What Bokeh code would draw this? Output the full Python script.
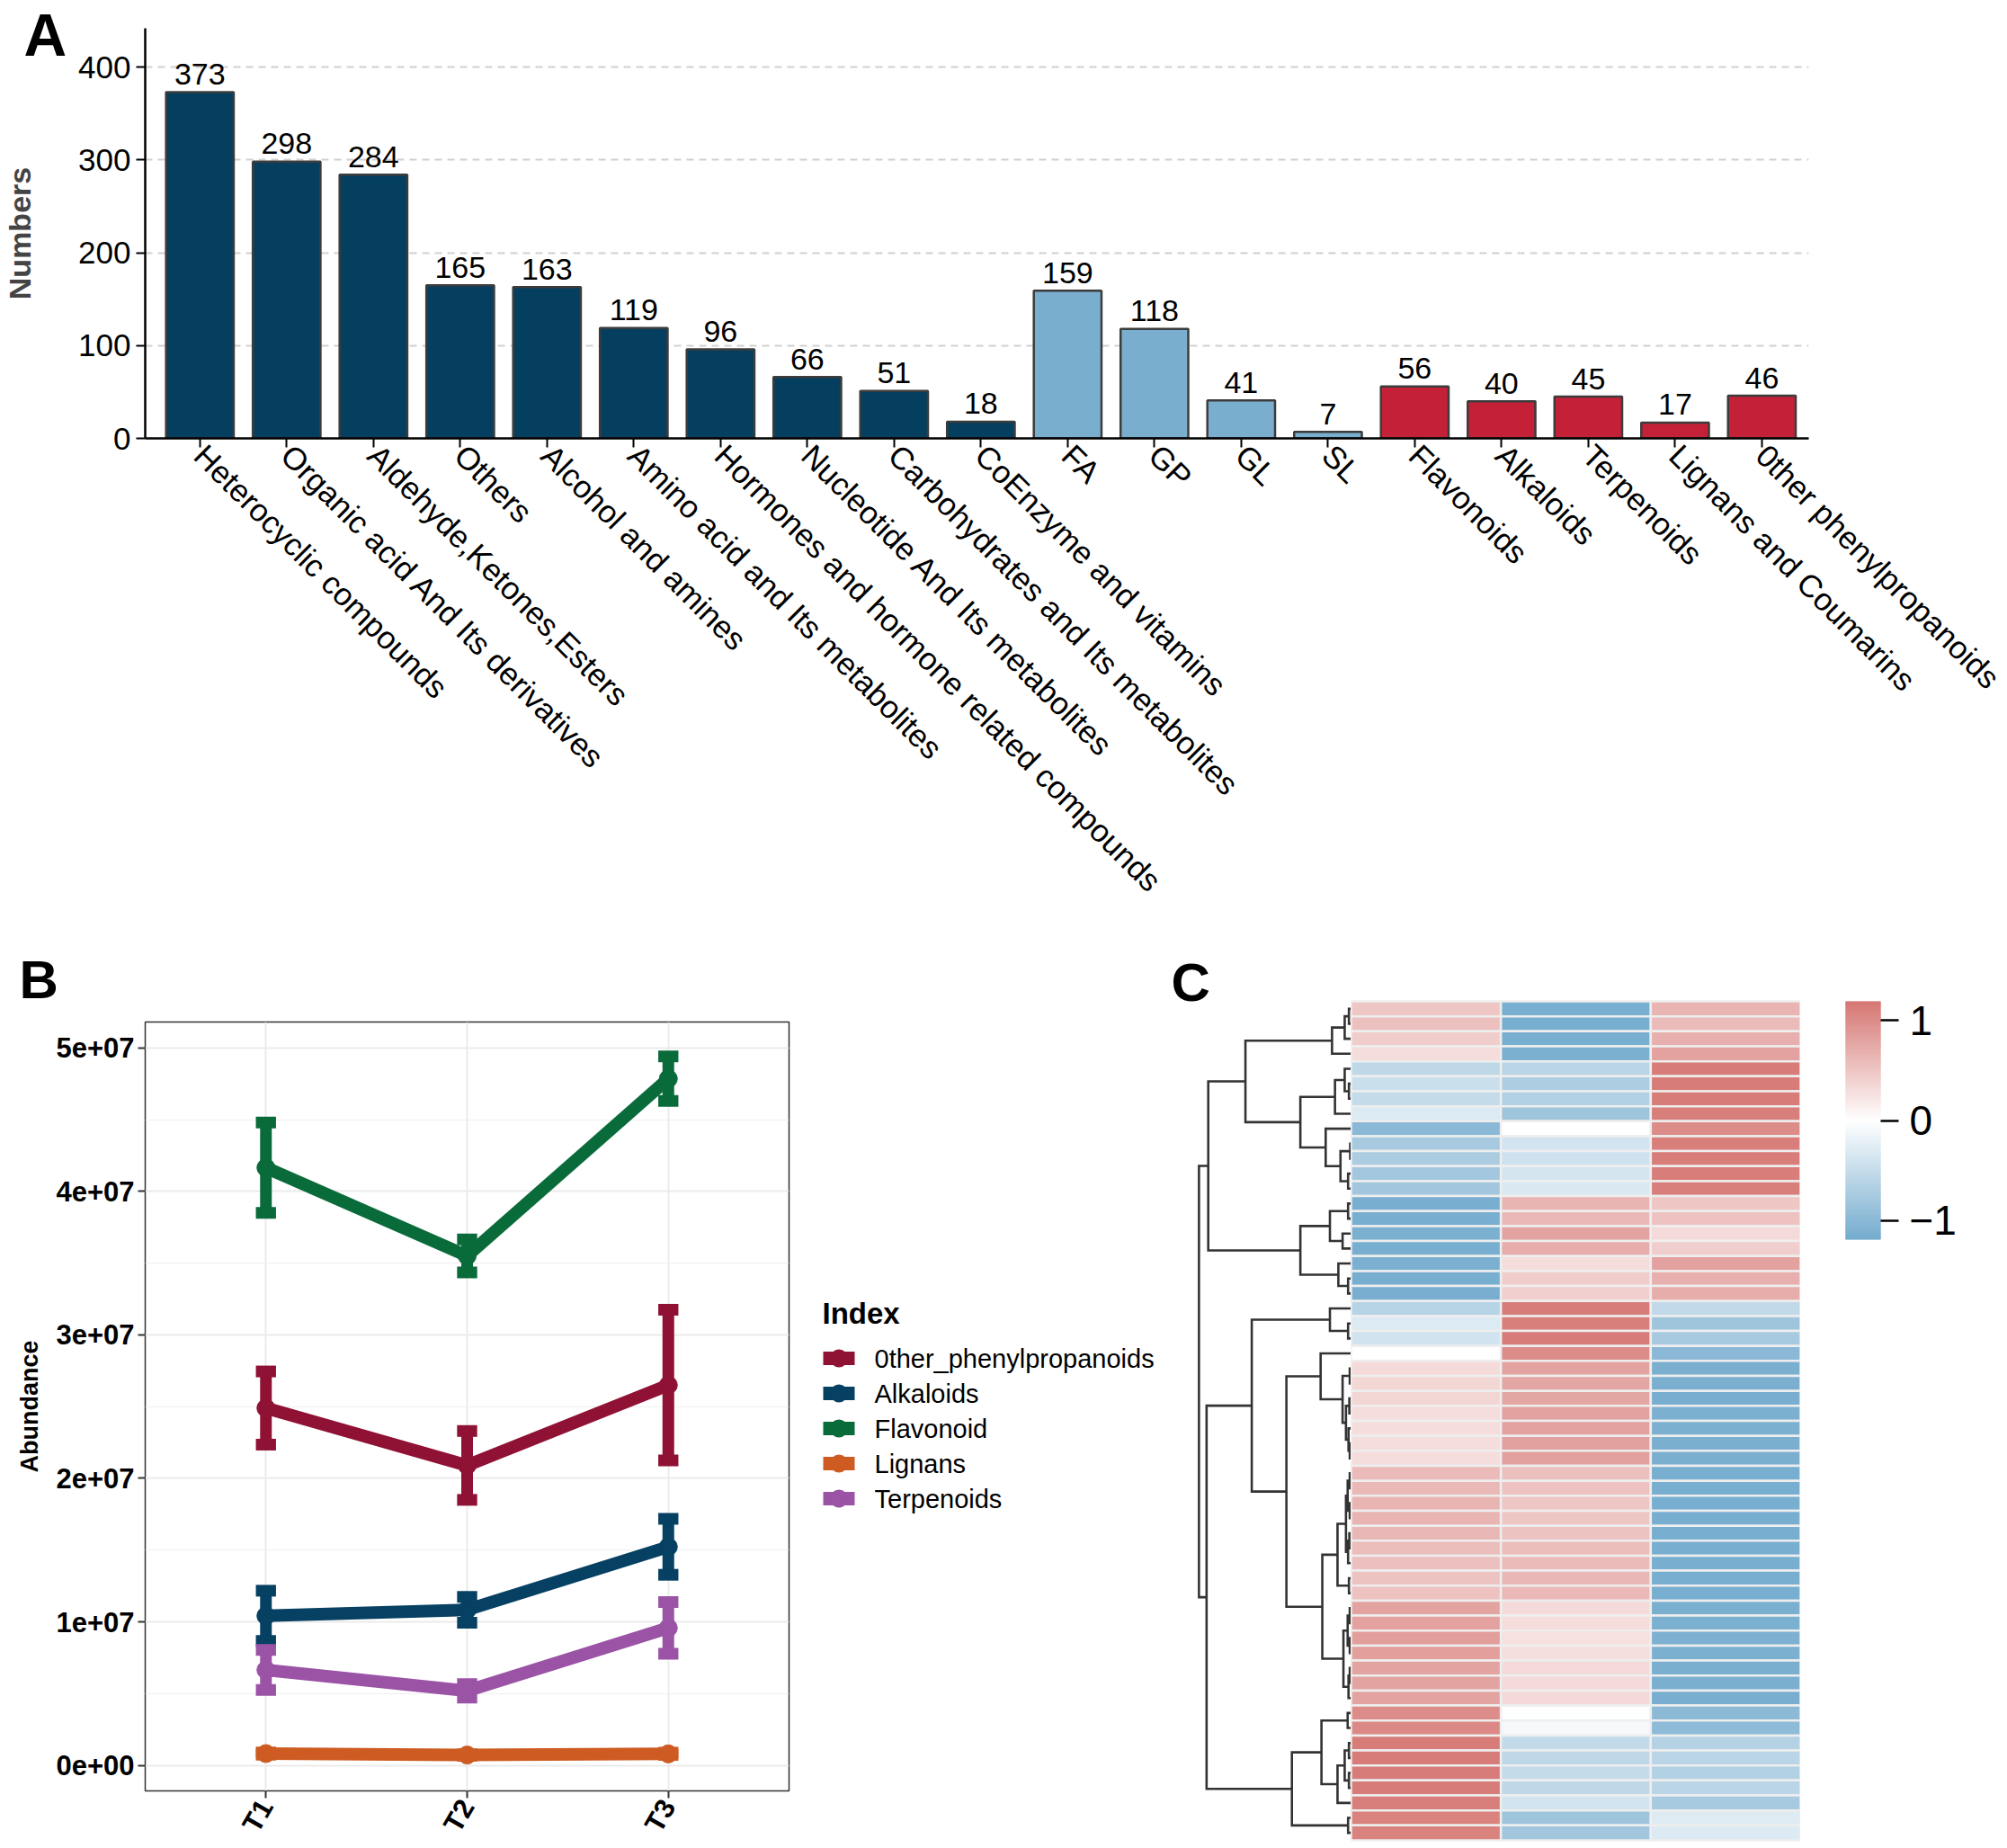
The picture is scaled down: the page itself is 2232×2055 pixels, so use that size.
import numpy as np
from bokeh.plotting import figure
from bokeh.layouts import column, row
from bokeh.models import (Range1d, FixedTicker, ColumnDataSource,
                          LinearColorMapper, CustomJSTickFormatter)
from bokeh.transform import transform
from bokeh.core.properties import value
from bokeh.embed import file_html
from bokeh.resources import INLINE

FONT = "Liberation Sans"

# ---------------- Panel A data ----------------
a_categories = ["Heterocyclic compounds", "Organic acid And Its derivatives",
                "Aldehyde,Ketones,Esters", "Others", "Alcohol and amines",
                "Amino acid and Its metabolites", "Hormones and hormone related compounds",
                "Nucleotide And Its metabolites", "Carbohydrates and Its metabolites",
                "CoEnzyme and vitamins", "FA", "GP", "GL", "SL", "Flavonoids",
                "Alkaloids", "Terpenoids", "Lignans and Coumarins", "0ther phenylpropanoids"]
a_counts = [373, 298, 284, 165, 163, 119, 96, 66, 51, 18, 159, 118, 41, 7, 56, 40, 45, 17, 46]
a_groups = ["primary", "primary", "primary", "primary", "primary", "primary", "primary",
            "primary", "primary", "primary", "lipid", "lipid", "lipid", "lipid",
            "phenyl", "phenyl", "phenyl", "phenyl", "phenyl"]
a_group_colors = {"primary": "#053F60", "lipid": "#7AAECE", "phenyl": "#C42038"}
a_yticks = [0, 100, 200, 300, 400]

# ---------------- Panel B data ----------------
b_times = ["T1", "T2", "T3"]
b_series = ["0ther_phenylpropanoids", "Alkaloids", "Flavonoid", "Lignans", "Terpenoids"]
b_colors = ["#8F1134", "#064062", "#0A6B3A", "#CD5B22", "#9B53A6"]
b_mean_other = [2.49e7, 2.09e7, 2.65e7]
b_sd_other = [0.255e7, 0.24e7, 0.525e7]
b_mean_alkaloids = [1.042e7, 1.084e7, 1.523e7]
b_sd_alkaloids = [0.175e7, 0.09e7, 0.195e7]
b_mean_flavonoid = [4.165e7, 3.55e7, 4.785e7]
b_sd_flavonoid = [0.315e7, 0.115e7, 0.155e7]
b_mean_lignans = [0.082e7, 0.072e7, 0.080e7]
b_sd_lignans = [0.008e7, 0.006e7, 0.008e7]
b_mean_terpenoids = [0.665e7, 0.519e7, 0.958e7]
b_sd_terpenoids = [0.14e7, 0.047e7, 0.18e7]
b_yticks = [0, 1e7, 2e7, 3e7, 4e7, 5e7]
b_yminor = [0.5e7, 1.5e7, 2.5e7, 3.5e7, 4.5e7]

# ---------------- Panel C data (row z-scores, 56 rows x 3 samples) ----------------
c_z1 = [0.50, 0.55, 0.45, 0.30, -0.55, -0.45, -0.50, -0.30, -1.00, -0.75,
        -0.72, -0.78, -0.80, -1.15, -1.15, -1.12, -1.15, -1.12, -1.15, -1.14,
        -0.62, -0.30, -0.40, 0.00, 0.33, 0.35, 0.36, 0.30, 0.30, 0.30,
        0.30, 0.60, 0.62, 0.65, 0.65, 0.63, 0.58, 0.55, 0.52, 0.53,
        0.80, 0.82, 0.85, 0.84, 0.80, 0.80, 0.80, 1.00, 1.04, 1.15,
        1.15, 1.15, 1.15, 1.13, 1.10, 1.10]
c_z2 = [-1.15, -1.15, -1.15, -1.12, -0.60, -0.70, -0.65, -0.82, 0.00, -0.38,
        -0.42, -0.36, -0.33, 0.65, 0.62, 0.80, 0.72, 0.30, 0.45, 0.42,
        1.15, 1.12, 1.15, 1.00, 0.80, 0.78, 0.78, 0.82, 0.82, 0.83,
        0.83, 0.55, 0.53, 0.50, 0.50, 0.52, 0.57, 0.60, 0.63, 0.62,
        0.33, 0.30, 0.26, 0.28, 0.33, 0.33, 0.34, -0.02, -0.08, -0.52,
        -0.55, -0.50, -0.55, -0.38, -0.82, -0.80]
c_z3 = [0.65, 0.60, 0.70, 0.82, 1.15, 1.15, 1.15, 1.12, 1.00, 1.13,
        1.14, 1.14, 1.13, 0.50, 0.53, 0.32, 0.43, 0.82, 0.70, 0.72,
        -0.53, -0.82, -0.75, -1.00, -1.13, -1.13, -1.14, -1.12, -1.12, -1.13,
        -1.13, -1.15, -1.15, -1.15, -1.15, -1.15, -1.15, -1.15, -1.15, -1.15,
        -1.13, -1.12, -1.11, -1.12, -1.13, -1.13, -1.14, -0.98, -0.96, -0.63,
        -0.60, -0.65, -0.60, -0.75, -0.28, -0.30]
# row dendrogram: leaf = row index, node = [left, right, height]
dendro_tree = [
    [[[[[0, 1, 5], 2, 15], 3, 45],
      [[[4, [5, 6, 5], 15], 7, 38], [8, [[9, 10, 2], [11, 12, 7], 25], 60], 120], 250],
     [[[13, 14, 7], [15, 16, 20], 50], [17, [18, 19, 7], 30], 120], 338],
    [[[20, [21, 22, 7], 50],
      [[23, [[24, 25, 3], [[26, 27, 4], [28, [29, 30, 3], 6], 12], 20], 72],
       [[[[[31, 32, 3], [33, 34, 3], 8], [[35, 36, 4], 37, 7], 12], [38, 39, 5], 32],
        [[[40, 41, 3], [42, 43, 3], 8], [[44, 45, 3], 46, 6], 18], 68], 153], 235],
     [[[47, 48, 8], [[[49, 50, 5], [51, 52, 5], 15], 53, 32], 70], [54, 55, 7], 140], 342],
    360]
c_lim = 1.19
c_colors = ["#74ABCE", "#FFFFFF", "#D67874"]


def interp_palette(stops, n):
    rgb = [tuple(int(s[i:i + 2], 16) for i in (1, 3, 5)) for s in stops]
    out = []
    for k in range(n):
        t = k / (n - 1) * (len(rgb) - 1)
        i = min(int(t), len(rgb) - 2)
        f = t - i
        c = [round(rgb[i][j] + (rgb[i + 1][j] - rgb[i][j]) * f) for j in range(3)]
        out.append("#%02x%02x%02x" % tuple(c))
    return out


ALL_FIGS = []


def make_fig(**kw):
    f = figure(output_backend="svg", toolbar_location=None, **kw)
    f.background_fill_color = "white"
    f.border_fill_color = "white"
    ALL_FIGS.append(f)
    return f


def blank_fig(w, h, xr, yr):
    f = make_fig(width=w, height=h, x_range=xr, y_range=yr, x_axis_location=None,
                 y_axis_location=None, min_border=0)
    f.outline_line_color = None
    f.grid.visible = False
    return f


# ======================= Panel A =======================
W = 2232
TOP_H = 1040
A_LEFT = 80
A_L, A_R, A_T = 161 - A_LEFT, 221, 31
A_FH = 487 - A_T                        # frame height in px
A_B = TOP_H - A_T - A_FH
a_px = 413 / 400.0                      # px per count (0 at y=487, 400 at y=74)
a_x0, a_x1 = -0.63, 18.54
a_y0, a_y1 = 0, A_FH / a_px

# left strip holding panel letter and y-axis title
pleft = blank_fig(A_LEFT, TOP_H, Range1d(0, A_LEFT), Range1d(TOP_H, 0))
pleft.text(x=[26], y=[38], text=["A"], text_font=value(FONT), text_font_style="bold",
           text_font_size="66px", text_baseline="middle")
pleft.text(x=[21], y=[A_T + A_FH / 2], text=["Numbers"], angle=np.pi / 2,
           text_font=value(FONT), text_font_style="bold", text_font_size="34px",
           text_color="#444444", text_align="center", text_baseline="middle")

pa = make_fig(width=W - A_LEFT, height=TOP_H, x_range=Range1d(a_x0, a_x1),
              y_range=Range1d(a_y0, a_y1), min_border_left=A_L, min_border_right=A_R,
              min_border_top=A_T, min_border_bottom=A_B)
pa.outline_line_color = None
pa.xgrid.grid_line_color = None
pa.ygrid.ticker = FixedTicker(ticks=a_yticks[1:])
pa.ygrid.grid_line_color = "#D0D0D0"
pa.ygrid.grid_line_dash = "8 6"
pa.ygrid.grid_line_width = 2

src_a = ColumnDataSource(dict(x=list(range(len(a_categories))), top=a_counts,
                              ylab=[v + 20 / a_px for v in a_counts],
                              lab=[str(v) for v in a_counts],
                              color=[a_group_colors[g] for g in a_groups]))
pa.vbar(x="x", top="top", bottom=0, width=0.78, fill_color="color",
        line_color="#3C3C3C", line_width=2.5, source=src_a)
pa.text(x="x", y="ylab", text="lab", text_align="center", text_baseline="middle",
        text_font=value(FONT), text_font_size="34px", text_color="black", source=src_a)

pa.xaxis.ticker = FixedTicker(ticks=list(range(len(a_categories))))
pa.xaxis.major_label_overrides = {i: c for i, c in enumerate(a_categories)}
pa.xaxis.major_label_orientation = -np.pi / 4
pa.yaxis.ticker = FixedTicker(ticks=a_yticks)
for ax in (pa.xaxis[0], pa.yaxis[0]):
    ax.axis_line_color = "black"
    ax.axis_line_width = 2.5
    ax.major_tick_line_color = "black"
    ax.major_tick_line_width = 2
    ax.major_tick_out = 10
    ax.major_tick_in = 0
    ax.minor_tick_line_color = None
    ax.major_label_text_font = FONT
    ax.major_label_text_font_size = "35px"
    ax.major_label_text_color = "black"
pa.xaxis.major_label_standoff = 3
pa.yaxis.major_label_standoff = 6

# ======================= Panel B =======================
ROW_H = 2055 - TOP_H
B_W = 897
B_STRIP = 1134 - TOP_H
stripB = blank_fig(B_W, B_STRIP, Range1d(0, B_W), Range1d(B_STRIP, 0))
stripB.text(x=[21], y=[1089 - TOP_H], text=["B"], text_font=value(FONT),
            text_font_style="bold", text_font_size="60px", text_baseline="middle")

B_H = ROW_H - B_STRIP
B_L, B_R, B_T = 161, 20, 2
B_B = B_H - B_T - 856
b_x0, b_x1 = 0.4, 3.6
b_y0, b_y1 = -0.178e7, 5.18e7
pb = make_fig(width=B_W, height=B_H, x_range=Range1d(b_x0, b_x1), y_range=Range1d(b_y0, b_y1),
              min_border_left=B_L, min_border_right=B_R, min_border_top=B_T,
              min_border_bottom=B_B)
pb.outline_line_color = "#333333"
pb.outline_line_width = 1.5
b_xpos = [i + 1 for i in range(len(b_times))]
pb.xgrid.ticker = FixedTicker(ticks=b_xpos)
pb.xgrid.grid_line_color = "#EBEBEB"
pb.xgrid.grid_line_width = 2
pb.yaxis.ticker = FixedTicker(ticks=b_yticks, minor_ticks=b_yminor)
pb.ygrid.grid_line_color = "#EBEBEB"
pb.ygrid.grid_line_width = 2
pb.ygrid.minor_grid_line_color = "#EFEFEF"
pb.ygrid.minor_grid_line_width = 1.2

b_means = [b_mean_other, b_mean_alkaloids, b_mean_flavonoid, b_mean_lignans, b_mean_terpenoids]
b_sds = [b_sd_other, b_sd_alkaloids, b_sd_flavonoid, b_sd_lignans, b_sd_terpenoids]
for m, c in zip(b_means, b_colors):
    pb.line(b_xpos, m, line_color=c, line_width=14, line_join="round")
for m, c in zip(b_means, b_colors):
    pb.scatter(b_xpos, m, size=20, fill_color=c, line_color=c, marker="circle")
cap = 0.05
for m, s, c in zip(b_means, b_sds, b_colors):
    lo = [mm - ss for mm, ss in zip(m, s)]
    hi = [mm + ss for mm, ss in zip(m, s)]
    pb.segment(x0=b_xpos, y0=lo, x1=b_xpos, y1=hi, line_color=c, line_width=13)
    pb.segment(x0=[x - cap for x in b_xpos], y0=hi, x1=[x + cap for x in b_xpos], y1=hi,
               line_color=c, line_width=13)
    pb.segment(x0=[x - cap for x in b_xpos], y0=lo, x1=[x + cap for x in b_xpos], y1=lo,
               line_color=c, line_width=13)

pb.xaxis.ticker = FixedTicker(ticks=b_xpos)
pb.xaxis.major_label_overrides = {x: t for x, t in zip(b_xpos, b_times)}
pb.xaxis.major_label_orientation = np.pi / 3
pb.yaxis.formatter = CustomJSTickFormatter(code="""
    const s = tick.toExponential(0);
    const parts = s.split('e');
    const sign = parts[1][0];
    const d = parts[1].slice(1).padStart(2, '0');
    return parts[0] + 'e' + sign + d;
""")
for ax in (pb.xaxis[0], pb.yaxis[0]):
    ax.axis_line_color = None
    ax.major_tick_line_color = "#333333"
    ax.major_tick_line_width = 2
    ax.major_tick_out = 8
    ax.major_tick_in = 0
    ax.minor_tick_line_color = None
    ax.major_label_text_font = FONT
    ax.major_label_text_font_style = "bold"
    ax.major_label_text_font_size = "31px"
    ax.major_label_text_color = "black"
    ax.major_label_standoff = 4
pb.yaxis.axis_label = "Abundance"
pb.yaxis.axis_label_text_font = FONT
pb.yaxis.axis_label_text_font_style = "bold"
pb.yaxis.axis_label_text_font_size = "27px"
pb.yaxis.axis_label_text_color = "black"
pb.yaxis.axis_label_standoff = 11

# ----- legend for panel B (own small canvas, pixel units) -----
L_W = 403
pl = blank_fig(L_W, ROW_H, Range1d(0, L_W), Range1d(ROW_H, 0))
leg_top, leg_pitch = 1510 - TOP_H, 39
leg_y = [leg_top + leg_pitch * i for i in range(len(b_series))]
pl.text(x=[17], y=[leg_top - 50], text=["Index"], text_font=value(FONT),
        text_font_style="bold", text_font_size="33px", text_baseline="middle")
pl.rect(x=[35.5] * len(b_series), y=leg_y, width=35, height=15, fill_color=b_colors,
        line_color=None)
pl.scatter(x=[35.5] * len(b_series), y=leg_y, size=20, fill_color=b_colors,
           line_color=None, marker="circle")
pl.text(x=[75] * len(b_series), y=leg_y, text=b_series, text_font=value(FONT),
        text_font_size="29px", text_baseline="middle", text_color="black")

# ======================= Panel C =======================
n_rows = len(c_z1)
C_TOP, C_BOT = 1113 - TOP_H, 2046 - TOP_H   # heatmap top / bottom inside the row canvas
r_px = (C_BOT - C_TOP) / n_rows              # px per heatmap row
c_yr = (n_rows + (ROW_H - C_BOT) / r_px, -C_TOP / r_px)

D_W, D_ROOT = 202, 31
d_max = 364
d_px = (D_W - D_ROOT) / d_max
pdd = blank_fig(D_W, ROW_H, Range1d(d_max + D_ROOT / d_px, 0), Range1d(*c_yr))
dx, dy = [], []


def dendro_segments(node):
    if isinstance(node, int):
        return 0.0, node + 0.5
    left, right, h = node
    hl, yl = dendro_segments(left)
    hr, yr = dendro_segments(right)
    dx.append([hl, h, h, hr])
    dy.append([yl, yl, yr, yr])
    return h, (yl + yr) / 2


dendro_segments(dendro_tree)
pdd.multi_line(xs=dx, ys=dy, line_color="#333333", line_width=2.6, line_join="miter")
pdd.text(x=[d_max + (D_ROOT - 2) / d_px], y=[(1091.5 - TOP_H - C_TOP) / r_px], text=["C"],
         text_font=value(FONT), text_font_style="bold", text_font_size="60px",
         text_baseline="middle")

palette = interp_palette(c_colors, 255)
mapper = LinearColorMapper(palette=palette, low=-c_lim, high=c_lim)

H_W = 500
ph = blank_fig(H_W, ROW_H, Range1d(0, 3), Range1d(*c_yr))
hx, hy, hz = [], [], []
for ci, col in enumerate([c_z1, c_z2, c_z3]):
    for ri, v in enumerate(col):
        hx.append(ci + 0.5)
        hy.append(ri + 0.5)
        hz.append(v)
src_h = ColumnDataSource(dict(x=hx, y=hy, z=hz))
ph.rect(x="x", y="y", width=1, height=1, fill_color=transform("z", mapper),
        line_color="#EEEEEE", line_width=2.5, source=src_h)

# colour bar as its own small plot
CB_W = W - B_W - L_W - D_W - H_W
CB_L, CB_T, CB_FH = 50, C_TOP, 265
pcb = make_fig(width=CB_W, height=ROW_H, x_range=Range1d(0, 1), y_range=Range1d(-c_lim, c_lim),
               x_axis_location=None, y_axis_location="right", min_border_left=CB_L,
               min_border_right=CB_W - CB_L - 39, min_border_top=CB_T,
               min_border_bottom=ROW_H - CB_T - CB_FH)
pcb.outline_line_color = None
pcb.grid.visible = False
edges = np.linspace(-c_lim, c_lim, 241)
mids = (edges[:-1] + edges[1:]) / 2
src_cb = ColumnDataSource(dict(b=edges[:-1], t=edges[1:], m=mids))
pcb.quad(left=0, right=1, bottom="b", top="t", fill_color=transform("m", mapper),
         line_color=transform("m", mapper), line_width=1, source=src_cb)
cb_ax = pcb.yaxis[0]
cb_ax.ticker = FixedTicker(ticks=[-1, 0, 1])
cb_ax.major_label_overrides = {-1: "\u22121", 0: "0", 1: "1"}
cb_ax.axis_line_color = None
cb_ax.major_tick_line_color = "black"
cb_ax.major_tick_line_width = 2.5
cb_ax.major_tick_out = 20
cb_ax.major_tick_in = 0
cb_ax.minor_tick_line_color = None
cb_ax.major_label_standoff = 12
cb_ax.major_label_text_font = FONT
cb_ax.major_label_text_font_size = "46px"
cb_ax.major_label_text_color = "black"

for f in ALL_FIGS:
    try:
        f.frame_align = False
    except Exception:
        pass

layout = column(row(pleft, pa), row(column(stripB, pb), pl, pdd, ph, pcb))
open("out.html", "w").write(file_html(layout, INLINE))
